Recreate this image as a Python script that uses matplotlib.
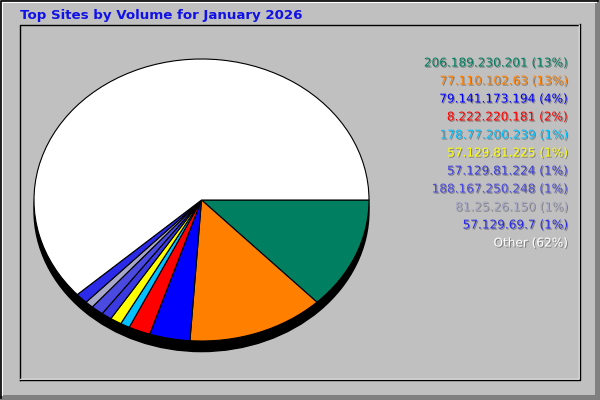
import matplotlib
matplotlib.use("Agg")
import matplotlib.pyplot as plt
import matplotlib.patheffects as pe
from matplotlib.patches import Ellipse, Rectangle

# Top sites data (percent of volume)
sites = ["206.189.230.201", "77.110.102.63", "79.141.173.194", "8.222.220.181",
         "178.77.200.239", "57.129.81.225", "57.129.81.224", "188.167.250.248",
         "81.25.26.150", "57.129.69.7", "Other"]
shares = [12.9, 13.2, 3.9, 2.1, 0.9, 1.1, 1.0, 1.2, 0.8, 1.2, 61.7]
pct_labels = ["13%", "13%", "4%", "2%", "1%", "1%", "1%", "1%", "1%", "1%", "62%"]
colors = ["#008060", "#ff8000", "#0000ff", "#ff0000", "#00c0ff", "#ffff00",
          "#3a3ae0", "#4a4ae0", "#a8a8c8", "#2a2ae8", "#ffffff"]
title = "Top Sites by Volume for January 2026"

W, H = 600, 400
fig = plt.figure(figsize=(6, 4), dpi=100)
fig.patch.set_facecolor("#c0c0c0")

# background axes in pixel coordinates for frame and text
bg = fig.add_axes([0, 0, 1, 1])
bg.set_xlim(0, W)
bg.set_ylim(H, 0)
bg.axis("off")

# outer bevel
bg.add_patch(Rectangle((595, 0), 5, 400, color="#808080", lw=0))
bg.add_patch(Rectangle((0, 395), 600, 5, color="#808080", lw=0))
bg.plot([2, 2, 596], [395, 2, 2], color="white", lw=1.5)
bg.plot([0.5, 0.5, 598], [398, 0.5, 0.5], color="black", lw=1.2)

# inner panel (inset)
bg.plot([19.5, 19.5, 579], [380, 24.5, 24.5], color="black", lw=1)
bg.plot([20, 578.5, 578.5], [378.5, 378.5, 25], color="white", lw=1)
bg.plot([20, 579.5, 579.5], [379.5, 379.5, 24], color="black", lw=1)

bg.text(20, 15, title, color="#1010e8", fontsize=9.6, fontweight="bold",
        ha="left", va="center", family="DejaVu Sans")

# legend text, right aligned with drop shadow
shadow = [pe.withSimplePatchShadow(offset=(0.8, -0.8), shadow_rgbFace="#808080", alpha=1.0)]
for i, (s, p, c) in enumerate(zip(sites, pct_labels, colors)):
    bg.text(568, 63 + 18 * i, f"{s} ({p})", color=c, fontsize=8.7, ha="right",
            va="center", family="DejaVu Sans", path_effects=shadow)

# pie axes spanning the ellipse box
x0, y0, x1, y1 = 34, 59, 369, 341
pax = fig.add_axes([x0 / W, 1 - y1 / H, (x1 - x0) / W, (y1 - y0) / H])
pax.add_patch(Ellipse((0, -0.075), 2, 2, color="black", zorder=0, clip_on=False))
pax.pie(shares, colors=colors, startangle=0, counterclock=False, radius=1,
        wedgeprops=dict(edgecolor="black", linewidth=0.8))
pax.set_aspect("auto")
pax.set_xlim(-1, 1)
pax.set_ylim(-1, 1)
pax.axis("off")

fig.savefig("out.png", dpi=100, facecolor=fig.get_facecolor())
